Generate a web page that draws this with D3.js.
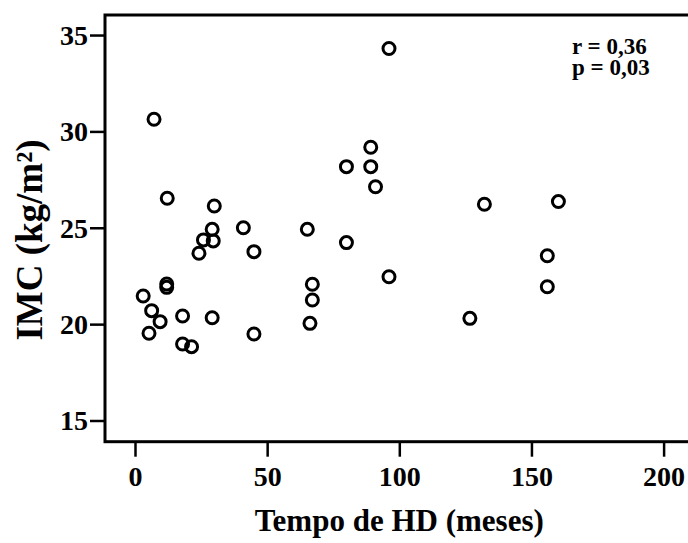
<!DOCTYPE html>
<html>
<head>
<meta charset="utf-8">
<script src="https://cdn.jsdelivr.net/npm/d3@7"></script>
<style>
  html, body { margin: 0; padding: 0; background: #fff; }
  svg { display: block; }
</style>
</head>
<body>
<div id="app"></div>
<script>
'use strict'
// Tempo de HD (meses) vs IMC (kg/m²)
const tempoHD = [7.2, 12.2, 30.0, 41.0, 29.2, 25.9, 29.6, 24.2, 45.0, 12.0, 12.0, 3.1,
  6.3, 9.5, 18.0, 29.2, 5.3, 45.0, 18.0, 21.4, 89.2, 80.0, 89.2, 91.0, 65.2, 80.0,
  96.1, 67.1, 67.1, 66.2, 126.7, 132.2, 160.2, 156.0, 156.0, 96.1]
const imc = [30.63, 26.53, 26.13, 25.0, 24.92, 24.37, 24.32, 23.68, 23.76, 22.08, 21.91, 21.46,
  20.70, 20.13, 20.42, 20.33, 19.53, 19.49, 18.97, 18.83, 29.18, 28.17, 28.17, 27.13, 24.92, 24.23,
  22.46, 22.07, 21.25, 20.04, 20.30, 26.22, 26.36, 23.55, 21.94, 34.3]
const xTicks = [0, 50, 100, 150, 200]
const yTicks = [15, 20, 25, 30, 35]
const stats = ['r = 0,36', 'p = 0,03']

const data = tempoHD.map((t, i) => ({ x: t, y: imc[i] }))

const width = 688
const height = 543
const font = '"Liberation Serif", "Times New Roman", serif'

const svg = d3.select('#app').append('svg')
  .attr('width', width)
  .attr('height', height)
  .style('background-color', '#fff')

// frame spans a bit past the tick range on each side
const xScale = d3.scaleLinear()
  .domain([-11.35, 211.35])
  .range([105, 693.6])

const yScale = d3.scaleLinear()
  .domain([13.9, 36.04])
  .range([441.7, 15])

/*
 * Axes
 */
const xAxis = svg.append('g')
  .attr('transform', `translate(0, ${yScale.range()[0]})`)
  .call(d3.axisBottom(xScale).tickValues(xTicks).tickSize(15).tickSizeOuter(0))
xAxis.select('.domain').remove()
xAxis.selectAll('.tick line').attr('stroke', '#000').attr('stroke-width', 2.5)
xAxis.selectAll('.tick text')
  .attr('y', 44).attr('dy', null)
  .style('font-family', font).style('font-weight', 'bold').style('font-size', '28px')
  .attr('fill', '#000')

const yAxis = svg.append('g')
  .attr('transform', `translate(${xScale.range()[0]}, 0)`)
  .call(d3.axisLeft(yScale).tickValues(yTicks).tickSize(15).tickSizeOuter(0))
yAxis.select('.domain').remove()
yAxis.selectAll('.tick line').attr('stroke', '#000').attr('stroke-width', 2.5)
yAxis.selectAll('.tick text')
  .attr('x', -17).attr('dy', '0.33em')
  .style('font-family', font).style('font-weight', 'bold').style('font-size', '28px')
  .attr('fill', '#000')

// plot frame
svg.append('rect')
  .attr('x', xScale.range()[0])
  .attr('y', yScale.range()[1])
  .attr('width', xScale.range()[1] - xScale.range()[0])
  .attr('height', yScale.range()[0] - yScale.range()[1])
  .attr('fill', 'none')
  .attr('stroke', '#000')
  .attr('stroke-width', 3)

/*
 * Axis titles
 */
svg.append('text')
  .attr('x', xScale(100))
  .attr('y', 531)
  .attr('text-anchor', 'middle')
  .style('font-family', font).style('font-weight', 'bold').style('font-size', '31px')
  .text('Tempo de HD (meses)')

svg.append('text')
  .attr('transform', 'translate(42, 240) rotate(-90)')
  .attr('text-anchor', 'middle')
  .style('font-family', font).style('font-weight', 'bold').style('font-size', '37px')
  .text('IMC (kg/m²)')

// correlation note
svg.selectAll('.stat')
  .data(stats)
  .enter()
  .append('text')
  .attr('class', 'stat')
  .attr('x', 572)
  .attr('y', (d, i) => 54 + i * 21)
  .style('font-family', font).style('font-weight', 'bold').style('font-size', '23px')
  .text(d => d)

/*
 * Points: open circles
 */
svg.selectAll('circle')
  .data(data)
  .enter()
  .append('circle')
  .attr('cx', d => xScale(d.x))
  .attr('cy', d => yScale(d.y))
  .attr('r', 6)
  .attr('fill', 'none')
  .attr('stroke', '#000')
  .attr('stroke-width', 3)
</script>
</body>
</html>
